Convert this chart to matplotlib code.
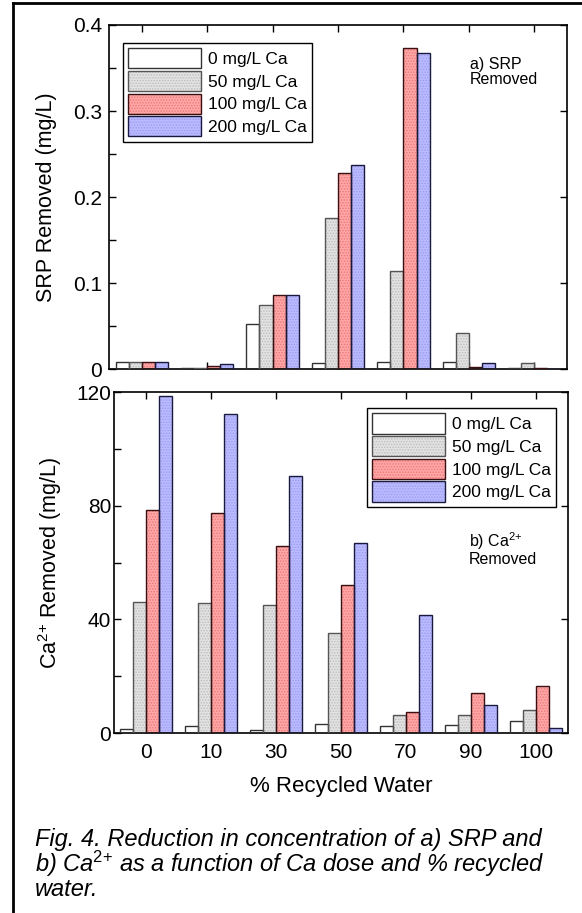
import numpy as np
import matplotlib
matplotlib.use("Agg")
import matplotlib.pyplot as plt
from matplotlib.lines import Line2D
from matplotlib.patches import Rectangle
from matplotlib.ticker import MultipleLocator

plt.rcParams["font.family"] = ["Liberation Sans", "DejaVu Sans"]
plt.rcParams["mathtext.fontset"] = "custom"
plt.rcParams["mathtext.rm"] = "Liberation Sans"
plt.rcParams["mathtext.it"] = "Liberation Sans:italic"
plt.rcParams["hatch.linewidth"] = 0.7

# categories and series
recycled = ["0", "10", "30", "50", "70", "90", "100"]
doses = ["0 mg/L Ca", "50 mg/L Ca", "100 mg/L Ca", "200 mg/L Ca"]

# a) SRP removed (mg/L)
srp_0 = [0.0085, 0.0015, 0.052, 0.007, 0.008, 0.0085, 0.0008]
srp_50 = [0.0085, 0.001, 0.075, 0.176, 0.114, 0.0415, 0.0066]
srp_100 = [0.0085, 0.004, 0.0856, 0.2275, 0.373, 0.002, 0.001]
srp_200 = [0.0085, 0.006, 0.0856, 0.237, 0.368, 0.0066, 0.0005]

# b) Ca2+ removed (mg/L)
ca_0 = [1.5, 2.4, 1.0, 3.2, 2.4, 2.7, 4.1]
ca_50 = [46.0, 45.8, 45.0, 35.3, 6.5, 6.5, 8.2]
ca_100 = [78.3, 77.3, 65.9, 52.2, 7.4, 14.2, 16.7]
ca_200 = [118.6, 112.4, 90.4, 67.0, 41.7, 10.0, 1.9]

fills = ["white", "#e2e2e2", "#ffa6a6", "#babaff"]
dots = ["white", "#bcbcbc", "#ec7878", "#9c9cf2"]
edges = ["#333333", "#555555", "#3a1010", "#1a1a40"]
hatches = [None, "......", "......", "......"]

W, H = 582, 913
fig = plt.figure(figsize=(W / 100, H / 100), dpi=100)


def px_axes(x0, y0, x1, y1):
    return fig.add_axes([x0 / W, 1 - y1 / H, (x1 - x0) / W, (y1 - y0) / H])


def draw_bars(ax, series):
    x = np.arange(len(recycled))
    bw = 0.2
    for i, vals in enumerate(series):
        pos = x + (i - 1.5) * bw
        ax.bar(pos, vals, bw, color=fills[i], hatch=hatches[i],
               edgecolor=dots[i], linewidth=0, zorder=2)
        ax.bar(pos, vals, bw, color="none", edgecolor=edges[i],
               linewidth=1.0, zorder=3)


def style_axes(ax, ypad):
    ax.set_xlim(-0.5, len(recycled) - 0.5)
    ax.set_xticks(np.arange(len(recycled)))
    ax.tick_params(axis="both", which="both", direction="in", width=1,
                   length=5, labelsize=15)
    ax.tick_params(axis="x", top=True, bottom=True, pad=7)
    ax.tick_params(axis="y", right=True, pad=ypad)
    for sp in ax.spines.values():
        sp.set_linewidth(1.2)


def add_legend(ax, loc, anchor):
    handles = []
    for i in range(4):
        inner = Rectangle((0, 0), 1, 1, facecolor=fills[i], hatch=hatches[i],
                          edgecolor=dots[i], linewidth=0)
        outer = Rectangle((0, 0), 1, 1, facecolor="none",
                          edgecolor=edges[i], linewidth=1)
        handles.append((inner, outer))
    leg = ax.legend(handles, doses, loc=loc, bbox_to_anchor=anchor,
                    borderaxespad=0, fontsize=12.5, handlelength=4.2,
                    handleheight=1.42, labelspacing=0.14, borderpad=0.3,
                    handletextpad=0.4, fancybox=False, framealpha=1)
    leg.get_frame().set_edgecolor("black")
    leg.get_frame().set_linewidth(1)
    return leg


# top panel: SRP
ax1 = px_axes(109, 25, 567, 369)
draw_bars(ax1, [srp_0, srp_50, srp_100, srp_200])
style_axes(ax1, 5)
ax1.set_ylim(0, 0.4)
ax1.set_yticks([0, 0.1, 0.2, 0.3, 0.4])
ax1.set_yticklabels(["0", "0.1", "0.2", "0.3", "0.4"])
ax1.yaxis.set_minor_locator(MultipleLocator(0.05))
ax1.set_xticklabels([])
ax1.set_ylabel("SRP Removed (mg/L)", fontsize=15.5)
ax1.yaxis.set_label_coords(-0.113, 0.5)
add_legend(ax1, "upper left", (0.031, 0.948))
ax1.text(0.788, 0.908, "a) SRP\nRemoved", transform=ax1.transAxes,
         fontsize=11.5, va="top", ha="left", linespacing=1.0)

# bottom panel: Ca2+
ax2 = px_axes(114, 392, 568, 733)
draw_bars(ax2, [ca_0, ca_50, ca_100, ca_200])
style_axes(ax2, 2)
ax2.set_ylim(0, 120)
ax2.yaxis.set_major_locator(MultipleLocator(40))
ax2.yaxis.set_minor_locator(MultipleLocator(20))
ax2.set_xticklabels(recycled)
ax2.set_xlabel("% Recycled Water", fontsize=16, labelpad=10)
ax2.set_ylabel("Ca$^{2{+}}$ Removed (mg/L)", fontsize=15.5)
ax2.yaxis.set_label_coords(-0.11, 0.5)
add_legend(ax2, "upper right", (0.974, 0.953))
ax2.text(0.782, 0.595, "b) Ca$^{2{+}}$\nRemoved", transform=ax2.transAxes,
         fontsize=11.5, va="top", ha="left", linespacing=1.0)

# caption
fig.text(35 / W, 1 - 828 / H,
         "Fig. 4. Reduction in concentration of a) SRP and\n"
         "b) Ca$^{2{+}}$ as a function of Ca dose and % recycled\n"
         "water.",
         fontsize=17, style="italic", va="top", ha="left", linespacing=0.92)

# page frame (left and top edges)
fig.add_artist(Line2D([13 / W, 13 / W], [0, 1 - 3 / H], color="black",
                      linewidth=2, transform=fig.transFigure))
fig.add_artist(Line2D([13 / W, 1], [1 - 3 / H, 1 - 3 / H], color="black",
                      linewidth=2, transform=fig.transFigure))

fig.savefig("out.png", dpi=100)
